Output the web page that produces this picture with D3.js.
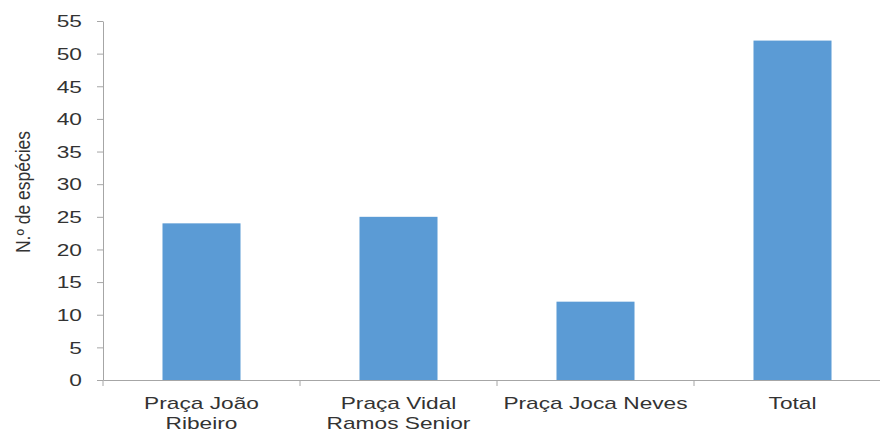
<!DOCTYPE html>
<html>
<head>
<meta charset="utf-8">
<script src="https://cdn.jsdelivr.net/npm/d3@7"></script>
<style>
  html, body { margin: 0; padding: 0; background: #fff; }
  svg { display: block; }
  text { font-family: "Liberation Sans", Arial, sans-serif; fill: #333; }
</style>
</head>
<body>
<svg id="chart" width="880" height="432"></svg>
<script>
const categories = ["Praça João Ribeiro", "Praça Vidal Ramos Senior", "Praça Joca Neves", "Total"];
const labelLines = [["Praça João", "Ribeiro"], ["Praça Vidal", "Ramos Senior"], ["Praça Joca Neves"], ["Total"]];
const values = [24, 25, 12, 52];
const yTicks = [0, 5, 10, 15, 20, 25, 30, 35, 40, 45, 50, 55];
const yTitle = "N.º de espécies";

const svg = d3.select("#chart");
const x0 = 103, x1 = 891, yTop = 21, yBot = 380;
const stretch = 1.42;

const x = d3.scaleBand().domain(categories).range([x0, x1])
  .paddingInner(0.604).paddingOuter(0.302);
const y = d3.scaleLinear().domain([0, 55]).range([yBot, yTop]);

// bars
svg.append("g").selectAll("rect").data(values).join("rect")
  .attr("x", (d, i) => x(categories[i]))
  .attr("y", d => y(d))
  .attr("width", x.bandwidth())
  .attr("height", d => y(0) - y(d))
  .attr("fill", "#5b9bd5");

// y axis
const yAxis = svg.append("g").attr("transform", `translate(${x0},0)`)
  .call(d3.axisLeft(y).tickValues(yTicks).tickSize(6).tickPadding(0).tickSizeOuter(0));
yAxis.select(".domain").attr("stroke", "#a6a6a6");
yAxis.selectAll(".tick line").attr("stroke", "#a6a6a6");
yAxis.selectAll(".tick text")
  .attr("font-size", 16)
  .attr("x", 0)
  .attr("dy", "0.36em")
  .attr("text-anchor", "end")
  .attr("transform", `translate(-21,0) scale(${stretch},1)`);

// x axis
const xAxis = svg.append("g").attr("transform", `translate(0,${yBot})`)
  .call(d3.axisBottom(x).tickSize(0).tickFormat(""));
xAxis.select(".domain").attr("stroke", "#a6a6a6");
// category boundary ticks
const bounds = d3.range(categories.length + 1).map(i => x0 + i * x.step());
xAxis.selectAll(".bnd").data(bounds).join("line").attr("class", "bnd")
  .attr("x1", d => d).attr("x2", d => d).attr("y1", 0).attr("y2", 6)
  .attr("stroke", "#a6a6a6");

// x labels
const lab = svg.append("g");
categories.forEach((c, i) => {
  const cx = x(c) + x.bandwidth() / 2;
  const t = lab.append("text")
    .attr("text-anchor", "middle")
    .attr("font-size", 16)
    .attr("transform", `translate(${cx},409) scale(${stretch},1)`);
  labelLines[i].forEach((ln, j) => {
    t.append("tspan").attr("x", 0).attr("y", j * 20).text(ln);
  });
});

// y title
svg.append("text")
  .attr("font-size", 17.5)
  .attr("text-anchor", "middle")
  .attr("transform", `translate(30,192) scale(1.12,1) rotate(-90)`)
  .text(yTitle);
</script>
</body>
</html>
